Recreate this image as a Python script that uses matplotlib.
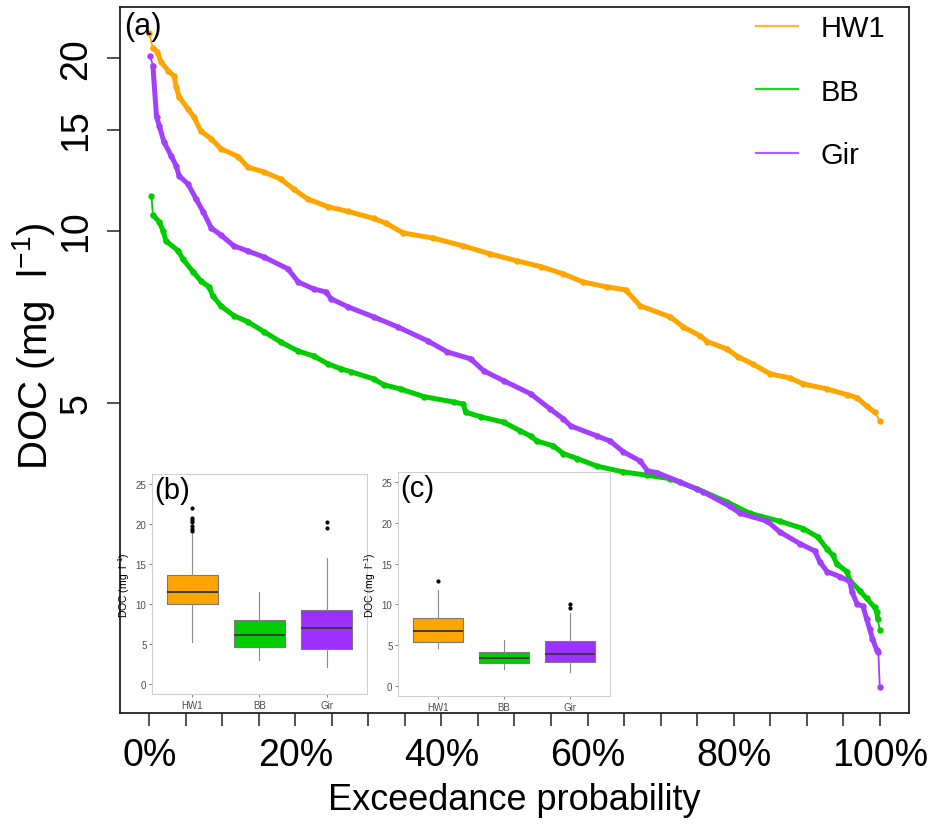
import numpy as np
import matplotlib
matplotlib.use("Agg")
import matplotlib.pyplot as plt
from matplotlib import font_manager
from matplotlib.lines import Line2D

def has_font(name):
    try:
        font_manager.findfont(name, fallback_to_default=False)
        return True
    except Exception:
        return False

REG = 'Liberation Sans' if has_font('Liberation Sans') else 'DejaVu Sans'
plt.rcParams['font.family'] = [REG, 'DejaVu Sans']
plt.rcParams['mathtext.fontset'] = 'custom'
plt.rcParams['mathtext.rm'] = REG
plt.rcParams['mathtext.it'] = REG

# ---------------- data ----------------
series_names = ["HW1", "BB", "Gir"]

hw1_p = [0, 0.005, 0.011, 0.016, 0.026, 0.034, 0.037, 0.041, 0.053, 0.061, 0.071, 0.085,
         0.098, 0.122, 0.135, 0.157, 0.180, 0.198, 0.217, 0.245, 0.272, 0.307, 0.324, 0.348,
         0.389, 0.430, 0.467, 0.504, 0.536, 0.567, 0.594, 0.627, 0.652, 0.672, 0.713, 0.731,
         0.754, 0.764, 0.791, 0.806, 0.826, 0.850, 0.877, 0.895, 0.928, 0.955, 0.969, 0.982,
         0.993, 1.0]
hw1_v = [22.1, 20.8, 20.5, 19.7, 19.0, 18.6, 17.8, 17.1, 16.3, 15.8, 14.9, 14.45,
         13.9, 13.45, 12.9, 12.65, 12.3, 11.8, 11.35, 11.0, 10.8, 10.5, 10.3, 9.9,
         9.7, 9.4, 9.1, 8.85, 8.65, 8.4, 8.13, 7.97, 7.88, 7.39, 7.07, 6.79,
         6.55, 6.4, 6.21, 6.02, 5.85, 5.62, 5.53, 5.4, 5.29, 5.17, 5.11, 4.94,
         4.82, 4.65]

bb_p = [0.003, 0.005, 0.014, 0.019, 0.023, 0.040, 0.046, 0.060, 0.071, 0.082, 0.087, 0.098,
        0.116, 0.135, 0.157, 0.180, 0.204, 0.225, 0.245, 0.262, 0.276, 0.307, 0.321, 0.344,
        0.376, 0.417, 0.430, 0.433, 0.454, 0.485, 0.508, 0.522, 0.531, 0.553, 0.567, 0.586,
        0.613, 0.649, 0.682, 0.713, 0.750, 0.791, 0.822, 0.863, 0.895, 0.915, 0.928, 0.936,
        0.941, 0.955, 0.959, 0.973, 0.982, 0.993, 0.996, 0.997, 1.0]
bb_v = [11.49, 10.64, 10.35, 9.98, 9.59, 9.21, 8.92, 8.47, 8.16, 7.97, 7.69, 7.39,
        7.10, 6.93, 6.66, 6.39, 6.16, 6.04, 5.85, 5.74, 5.67, 5.51, 5.38, 5.29,
        5.13, 5.02, 4.98, 4.82, 4.73, 4.63, 4.47, 4.38, 4.29, 4.21, 4.08, 4.00,
        3.88, 3.79, 3.74, 3.69, 3.54, 3.36, 3.21, 3.11, 3.02, 2.92, 2.78, 2.71,
        2.62, 2.54, 2.45, 2.35, 2.28, 2.20, 2.16, 2.10, 2.01]

gir_p = [0.001, 0.005, 0.010, 0.014, 0.020, 0.030, 0.037, 0.041, 0.053, 0.064, 0.074, 0.085,
         0.098, 0.116, 0.135, 0.157, 0.190, 0.204, 0.225, 0.242, 0.249, 0.272, 0.307, 0.340,
         0.381, 0.408, 0.440, 0.458, 0.485, 0.522, 0.549, 0.567, 0.577, 0.613, 0.631, 0.649,
         0.672, 0.682, 0.695, 0.727, 0.758, 0.795, 0.809, 0.846, 0.863, 0.891, 0.911, 0.918,
         0.928, 0.945, 0.959, 0.962, 0.969, 0.977, 0.982, 0.986, 0.990, 0.996, 0.998, 1.0]
gir_v = [20.2, 19.4, 15.8, 15.2, 14.3, 13.5, 12.96, 12.45, 12.06, 11.36, 10.78, 10.10,
         9.82, 9.40, 9.21, 8.99, 8.57, 8.13, 7.91, 7.81, 7.60, 7.36, 7.07, 6.79,
         6.42, 6.14, 5.97, 5.69, 5.47, 5.19, 4.88, 4.69, 4.56, 4.38, 4.29, 4.11,
         3.96, 3.81, 3.78, 3.64, 3.50, 3.30, 3.21, 3.11, 2.98, 2.84, 2.76, 2.64,
         2.54, 2.49, 2.44, 2.34, 2.23, 2.21, 2.10, 2.02, 1.94, 1.85, 1.84, 1.60]

# boxplot summaries: panel (b)
b_q1 = [10.05, 4.57, 4.40]
b_med = [11.45, 6.15, 7.02]
b_q3 = [13.66, 8.02, 9.22]
b_lo = [5.28, 2.99, 2.16]
b_hi = [18.7, 11.5, 15.8]
b_out = [[19.1, 19.4, 19.8, 20.2, 20.5, 20.8, 22.0], [], [19.5, 20.2]]
# panel (c)
c_q1 = [5.37, 2.79, 2.90]
c_med = [6.69, 3.40, 3.86]
c_q3 = [8.29, 4.15, 5.50]
c_lo = [4.70, 2.09, 1.72]
c_hi = [11.77, 5.60, 8.94]
c_out = [[12.9], [], [9.6, 10.0]]

line_colors = ['#FFA500', '#00CD00', '#A33FFF']
legend_colors = ['#FFB53A', '#22D622', '#B05CFF']
box_colors = ['#FFA500', '#00CD00', '#9B30FF']

# ---------------- figure ----------------
W, H = 929, 828
fig = plt.figure(figsize=(W / 100, H / 100), dpi=100)

def fig_rect(x0, y0, x1, y1):
    return [x0 / W, 1 - y1 / H, (x1 - x0) / W, (y1 - y0) / H]

ax = fig.add_axes(fig_rect(120, 8, 909, 714))
ax.set_yscale('log')
ax.set_xlim(-0.04, 1.04)
ax.set_ylim(1.439, 24.55)

for (p, v), c in zip([(hw1_p, hw1_v), (bb_p, bb_v), (gir_p, gir_v)], line_colors):
    p = np.array(p); v = np.array(v)
    ax.plot(p, v, color=c, lw=1.3, marker='o', ms=3.6, mec=c, mfc=c, zorder=3)
    ax.plot(p[1:-1], v[1:-1], color=c, lw=3.6, solid_capstyle='round', zorder=3)

ax.set_yticks([5, 10, 15, 20])
ax.set_yticklabels(['5', '10', '15', '20'])
ax.yaxis.set_minor_locator(matplotlib.ticker.NullLocator())
xt = np.round(np.arange(0, 1.0001, 0.05), 2)
ax.set_xticks(xt)
ax.set_xticklabels([f"{int(round(t*100))}%" if round(t*100) % 20 == 0 else "" for t in xt])
ax.tick_params(axis='both', length=9.5, width=1.1, color='#222222')
ax.tick_params(axis='x', pad=8, labelsize=27)
ax.tick_params(axis='y', pad=9, labelsize=27, labelrotation=90)
for lab in ax.get_yticklabels():
    lab.set_va('center')
for s in ax.spines.values():
    s.set_linewidth(1.3)
    s.set_color('#222222')

fig.text(514 / W, 1 - 801 / H, 'Exceedance probability', fontsize=26,
         ha='center', va='center')
fig.text(34 / W, 1 - 346 / H, 'DOC (mg  l$^{\\mathregular{-1}}$)', fontsize=29,
         ha='center', va='center', rotation=90)

fig.text(124 / W, 1 - 12 / H, '(a)', fontsize=22, va='top', ha='left')

handles = [Line2D([], [], color=c, lw=1.6) for c in legend_colors]
ax.legend(handles, series_names, loc='upper left', bbox_to_anchor=(756 / W, 1 - 15 / H),
          bbox_transform=fig.transFigure, frameon=False, fontsize=21, borderpad=0,
          borderaxespad=0, handlelength=1.45, handletextpad=0.75, labelspacing=1.22)

# ---------------- insets ----------------
def inset(rect, q1, med, q3, lo, hi, outs, tag):
    ia = fig.add_axes(fig_rect(*rect))
    stats = []
    for i in range(3):
        stats.append(dict(med=med[i], q1=q1[i], q3=q3[i], whislo=lo[i], whishi=hi[i],
                          fliers=outs[i], label=series_names[i]))
    bp = ia.bxp(stats, positions=[1, 2, 3], widths=0.75, patch_artist=True, showcaps=False,
                boxprops=dict(edgecolor='#7A7A7A', lw=0.8),
                medianprops=dict(color='#3A3A3A', lw=1.4),
                whiskerprops=dict(color='#8A8A8A', lw=0.8),
                flierprops=dict(marker='o', ms=2.0, mfc='black', mec='black'))
    for patch, c in zip(bp['boxes'], box_colors):
        patch.set_facecolor(c)
    ia.set_xlim(0.4, 3.6)
    ia.set_ylim(-1.25, 26.25)
    ia.set_yticks([0, 5, 10, 15, 20, 25])
    ia.set_xticks([1, 2, 3])
    ia.set_xticklabels(series_names)
    ia.tick_params(labelsize=7, labelcolor='#4D4D4D', length=2, width=0.5, color='#4D4D4D', pad=2)
    for s in ia.spines.values():
        s.set_color('#CFCFCF')
        s.set_linewidth(0.8)
    ia.set_facecolor('white')
    ia.set_ylabel('DOC (mg  l$^{\\mathregular{-1}}$)', fontsize=7.5, labelpad=3)
    ia.text(0.012, 0.99, tag, transform=ia.transAxes, fontsize=21, va='top', ha='left')
    return ia

inset((152, 475, 367, 695), b_q1, b_med, b_q3, b_lo, b_hi, b_out, '(b)')
inset((398, 473, 610, 697), c_q1, c_med, c_q3, c_lo, c_hi, c_out, '(c)')

fig.savefig('out.png', dpi=100, facecolor='white')
